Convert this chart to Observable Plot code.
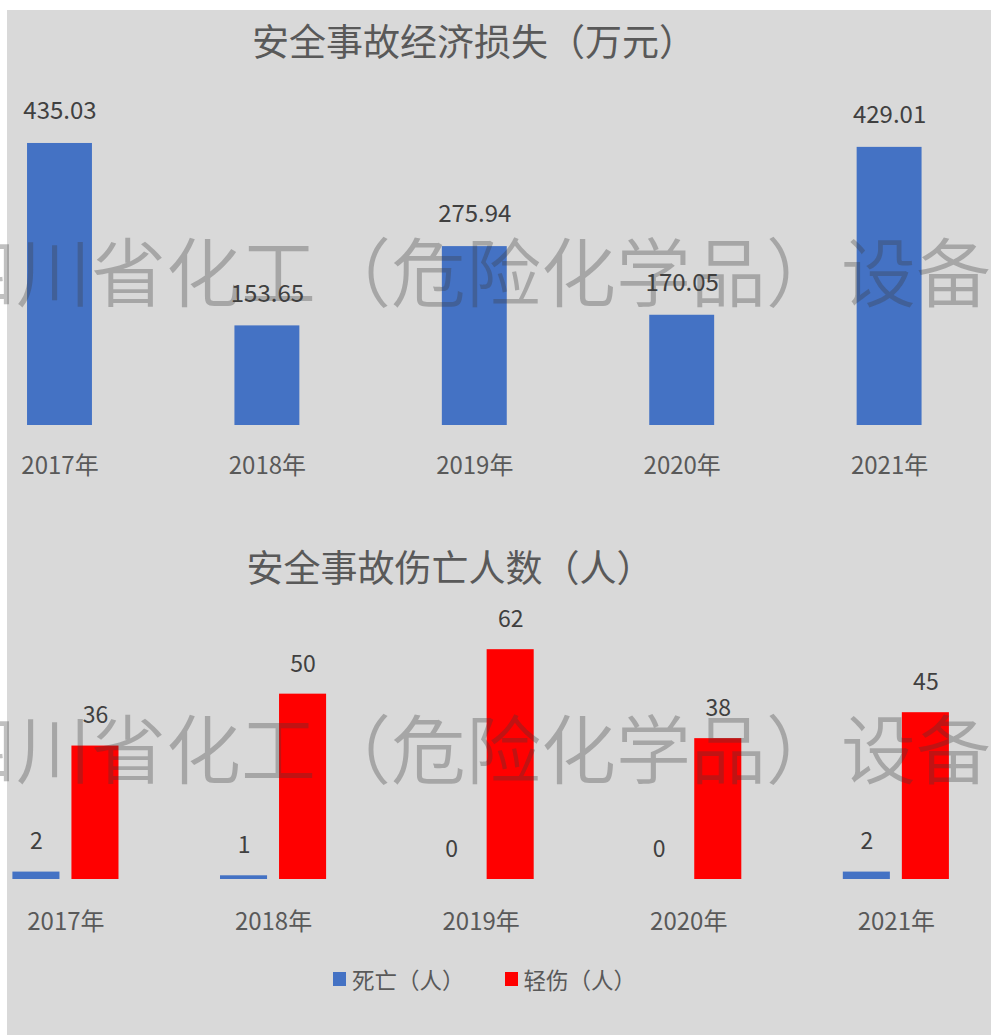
<!DOCTYPE html>
<html>
<head>
<meta charset="utf-8">
<script src="https://cdn.jsdelivr.net/npm/d3@7"></script>
<script src="https://cdn.jsdelivr.net/npm/@observablehq/plot@0.6"></script>
<style>
  html, body { margin: 0; padding: 0; background: #ffffff; overflow: hidden; width: 991px; height: 1035px; }
  #wrap { position: absolute; left: 7px; top: 10px; width: 984px; height: 1025px; background: #d9d9d9; overflow: hidden;
          font-family: "Noto Sans CJK SC", "Noto Sans", sans-serif; }
  .title { position: absolute; left: 0; width: 100%; text-align: center; color: #595959; font-size: 37px; line-height: 44px; white-space: nowrap; }
  .chart { position: absolute; left: 0; }
  .wm { position: absolute; left: -59px; font-family: "Noto Sans CJK SC", sans-serif; font-weight: 350; font-size: 75px; line-height: 75px; white-space: nowrap; color: rgba(60,60,60,0.32); pointer-events: none; z-index: 5; }
  #legend { position: absolute; top: 955px; left: 326px; display: flex; align-items: center; font-size: 22.5px; color: #595959; line-height: 28px; }
  #legend .sw { width: 13px; height: 14px; display: inline-block; margin-right: 6px; }
  #legend .item { display: flex; align-items: center; margin-right: 40px; }
</style>
</head>
<body>
<div id="wrap">
  <div class="title" style="top:8px; left:-25px;">安全事故经济损失（万元）</div>
  <div id="top" class="chart" style="top:60px;"></div>
  <div class="title" style="top:534px; left:-49px;">安全事故伤亡人数（人）</div>
  <div id="bottom" class="chart" style="top:580px;"></div>
  <div id="legend"></div>
</div>
<div class="wm" style="top:231px;">四川省化工（危险化学品）设备检测</div>
<div class="wm" style="top:708px;">四川省化工（危险化学品）设备检测</div>
<script>
const years = ["2017年", "2018年", "2019年", "2020年", "2021年"];
const lossValues = [435.03, 153.65, 275.94, 170.05, 429.01];
const seriesNames = ["死亡（人）", "轻伤（人）"];
const deaths = [2, 1, 0, 0, 2];
const injuries = [36, 50, 62, 38, 45];
const seriesColors = ["#4472c4", "#ff0000"];

const font = '"Noto Sans CJK SC", "Noto Sans", sans-serif';

// Top chart
const lossData = years.map((y, i) => ({year: y, value: lossValues[i]}));
const topPlot = Plot.plot({
  width: 984,
  height: 420,
  marginLeft: 0,
  marginRight: 49.4,
  marginTop: 50.3,
  marginBottom: 65,
  style: {background: "transparent", fontFamily: font, fontSize: "24px", color: "#595959", overflow: "visible"},
  x: {domain: years, paddingInner: 0.687, paddingOuter: 0.0966, round: false, axis: null},
  y: {domain: [0, 470], axis: null},
  marks: [
    Plot.barY(lossData, {x: "year", y: "value", fill: seriesColors[0]}),
    Plot.text(lossData, {x: "year", y: "value", text: d => d3.format(".2f")(d.value), dy: -32, fill: "#404040", fontSize: 24}),
    Plot.axisX({tickSize: 0, tickPadding: 31, fontSize: 24, fill: "#595959", label: null})
  ]
});
document.getElementById("top").appendChild(topPlot);

// Bottom chart
const casualty = [];
years.forEach((y, i) => {
  casualty.push({year: y, series: seriesNames[0], value: deaths[i]});
  casualty.push({year: y, series: seriesNames[1], value: injuries[i]});
});
const bottomPlot = Plot.plot({
  width: 984,
  height: 360,
  marginLeft: 0,
  marginRight: 36.7,
  marginTop: 11,
  marginBottom: 71,
  style: {background: "transparent", fontFamily: font, fontSize: "24px", color: "#595959", overflow: "visible"},
  fx: {domain: years, paddingInner: 0.489, paddingOuter: 0.026, round: false},
  x: {domain: seriesNames, paddingInner: 0.203, paddingOuter: 0, round: false, axis: null},
  y: {domain: [0, 75], axis: null},
  color: {domain: seriesNames, range: seriesColors},
  marks: [
    Plot.barY(casualty, {fx: "year", x: "series", y: "value", fill: "series"}),
    Plot.text(casualty, {fx: "year", x: "series", y: "value", text: d => String(d.value), dy: -30, fill: "#404040", fontSize: 23}),
    Plot.axisFx({anchor: "bottom", tickSize: 0, tickPadding: 33, fontSize: 24, fill: "#595959", label: null})
  ]
});
document.getElementById("bottom").appendChild(bottomPlot);

// Legend
const legend = document.getElementById("legend");
seriesNames.forEach((name, i) => {
  const item = document.createElement("div");
  item.className = "item";
  const sw = document.createElement("span");
  sw.className = "sw";
  sw.style.background = seriesColors[i];
  const label = document.createElement("span");
  label.textContent = name;
  item.appendChild(sw);
  item.appendChild(label);
  legend.appendChild(item);
});
</script>
</body>
</html>
